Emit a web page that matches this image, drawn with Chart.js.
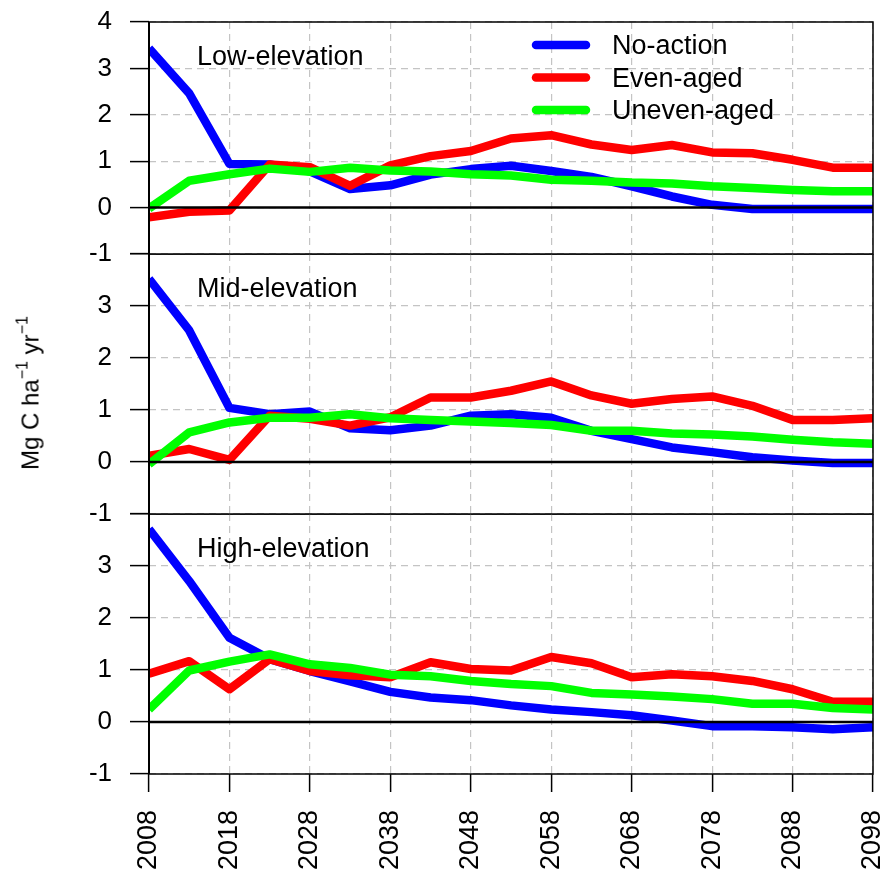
<!DOCTYPE html>
<html>
<head>
<meta charset="utf-8">
<script src="https://cdn.jsdelivr.net/npm/chart.js@4.4.1/dist/chart.umd.min.js"></script>
<style>
  body { margin: 0; background: #fff; }
  #wrap { position: relative; width: 890px; height: 873px; overflow: hidden; }
  canvas { position: absolute; left: 0; }
  #ytitle {
    position: absolute; left: 32px; top: 393px;
    transform: translate(-50%, -50%) rotate(-90deg);
    font: 24px "Liberation Sans", Arial, sans-serif;
    white-space: nowrap; line-height: 30px; color: #000;
  }
  #ytitle .sup { font-size: 16px; position: relative; top: -11px; }
</style>
</head>
<body>
<div id="wrap">
  <canvas id="low" width="890" height="274" style="top:0px"></canvas>
  <canvas id="mid" width="890" height="280" style="top:254px"></canvas>
  <canvas id="high" width="890" height="359" style="top:514px"></canvas>
  <div id="ytitle">Mg C ha<span class="sup">−1</span> yr<span class="sup">−1</span></div>
</div>

<script>
// years (every 5 yrs) and axis ticks
const years = [2008, 2013, 2018, 2023, 2028, 2033, 2038, 2043, 2048, 2053, 2058, 2063, 2068, 2073, 2078, 2083, 2088, 2093, 2098];
const xTicks = [2008, 2018, 2028, 2038, 2048, 2058, 2068, 2078, 2088, 2098];
const yTicks = [-1, 0, 1, 2, 3, 4];

const seriesNames = ['No-action', 'Even-aged', 'Uneven-aged'];
const seriesColors = ['#0000ff', '#ff0000', '#00ff00'];

// Low-elevation
const lowNoAction = [3.43, 2.46, 0.94, 0.93, 0.78, 0.40, 0.48, 0.71, 0.83, 0.90, 0.79, 0.66, 0.46, 0.24, 0.06, -0.03, -0.03, -0.03, -0.03];
const lowEven     = [-0.21, -0.09, -0.06, 0.93, 0.87, 0.47, 0.91, 1.11, 1.22, 1.49, 1.56, 1.36, 1.24, 1.35, 1.19, 1.17, 1.03, 0.86, 0.86];
const lowUneven   = [-0.02, 0.58, 0.72, 0.84, 0.77, 0.86, 0.80, 0.78, 0.72, 0.69, 0.60, 0.58, 0.54, 0.52, 0.46, 0.42, 0.38, 0.35, 0.35];

// Mid-elevation
const midNoAction = [3.52, 2.53, 1.04, 0.92, 0.97, 0.65, 0.61, 0.70, 0.89, 0.92, 0.85, 0.60, 0.44, 0.28, 0.19, 0.09, 0.03, -0.02, -0.02];
const midEven     = [0.12, 0.25, 0.04, 0.89, 0.83, 0.70, 0.86, 1.24, 1.24, 1.37, 1.55, 1.28, 1.12, 1.21, 1.26, 1.08, 0.81, 0.81, 0.84];
const midUneven   = [-0.04, 0.57, 0.76, 0.85, 0.85, 0.92, 0.84, 0.81, 0.78, 0.75, 0.71, 0.60, 0.60, 0.55, 0.53, 0.49, 0.43, 0.38, 0.35];

// High-elevation
const highNoAction = [3.71, 2.71, 1.62, 1.21, 0.98, 0.78, 0.58, 0.47, 0.42, 0.32, 0.24, 0.19, 0.13, 0.03, -0.08, -0.08, -0.10, -0.14, -0.10];
const highEven     = [0.93, 1.17, 0.63, 1.21, 0.98, 0.90, 0.86, 1.15, 1.02, 0.99, 1.25, 1.13, 0.86, 0.92, 0.88, 0.79, 0.63, 0.39, 0.39];
const highUneven   = [0.24, 0.99, 1.16, 1.30, 1.11, 1.04, 0.91, 0.88, 0.79, 0.73, 0.69, 0.56, 0.53, 0.49, 0.44, 0.35, 0.35, 0.27, 0.24];

const FONT = '"Liberation Sans", Arial, sans-serif';
const gridColor = '#c4c4c4';

// frame, zero line, panel title and legend
const panelDecor = {
  id: 'panelDecor',
  afterDatasetsDraw(chart, args, opts) {
    const { ctx, chartArea: a } = chart;
    const y = chart.scales.y;
    ctx.save();
    ctx.strokeStyle = '#000';

    const y0 = y.getPixelForValue(0);
    ctx.lineWidth = 2.5;
    ctx.beginPath(); ctx.moveTo(a.left, y0); ctx.lineTo(a.right, y0); ctx.stroke();

    ctx.lineWidth = 1.5;
    ctx.strokeRect(a.left, a.top, a.right - a.left, a.bottom - a.top);
    ctx.lineWidth = 2;
    ctx.beginPath(); ctx.moveTo(a.left, a.top); ctx.lineTo(a.left, a.bottom); ctx.stroke();

    ctx.fillStyle = '#000';
    ctx.font = '27px ' + FONT;
    ctx.textAlign = 'left';
    ctx.textBaseline = 'middle';
    ctx.fillText(opts.title, a.left + 48, a.top + 36);

    if (opts.legend) {
      chart.data.datasets.forEach((ds, i) => {
        const ly = a.top + 23 + i * 32.5;
        ctx.strokeStyle = ds.borderColor;
        ctx.lineWidth = 8.5;
        ctx.lineCap = 'round';
        ctx.beginPath(); ctx.moveTo(a.left + 387, ly); ctx.lineTo(a.left + 437, ly); ctx.stroke();
        ctx.fillText(ds.label, a.left + 463, ly + 2);
      });
    }
    ctx.restore();
  }
};

const panels = [
  { id: 'low',  title: 'Low-elevation',  series: [lowNoAction, lowEven, lowUneven],    padTop: 22, xHeight: 20, showX: false, topLabel: true,  legend: true },
  { id: 'mid',  title: 'Mid-elevation',  series: [midNoAction, midEven, midUneven],    padTop: 0,  xHeight: 20, showX: false, topLabel: false, legend: false },
  { id: 'high', title: 'High-elevation', series: [highNoAction, highEven, highUneven], padTop: 0,  xHeight: 99, showX: true,  topLabel: false, legend: false }
];

panels.forEach(p => {
  const ctx = document.getElementById(p.id).getContext('2d');

  new Chart(ctx, {
    type: 'line',
    data: {
      datasets: p.series.map((vals, i) => ({
        label: seriesNames[i],
        data: years.map((yr, j) => ({ x: yr, y: vals[j] })),
        borderColor: seriesColors[i],
        borderWidth: 8.5,
        pointRadius: 0,
        tension: 0,
        fill: false,
        clip: 0,
        borderJoinStyle: 'round',
        order: 2 - i
      }))
    },
    options: {
      responsive: false,
      devicePixelRatio: 1,
      animation: false,
      layout: { padding: { top: p.padTop, right: 17, bottom: 0, left: 0 } },
      plugins: {
        legend: { display: false },
        tooltip: { enabled: false },
        panelDecor: { title: p.title, legend: p.legend }
      },
      scales: {
        x: {
          type: 'linear',
          min: 2008,
          max: 2098,
          afterBuildTicks: s => { s.ticks = xTicks.map(v => ({ value: v })); },
          afterFit: s => { s.height = p.xHeight; s.paddingLeft = 0; s.paddingRight = 0; },
          grid: { color: gridColor, lineWidth: 1.2, drawTicks: p.showX, tickColor: '#000', tickLength: 18, tickWidth: 1.5 },
          border: { display: false, dash: [7, 5] },
          ticks: {
            display: p.showX,
            autoSkip: false,
            minRotation: 90,
            maxRotation: 90,
            padding: 18,
            color: '#000',
            font: { family: FONT, size: 27 },
            callback: v => String(v)
          }
        },
        y: {
          min: -1,
          max: 4,
          afterBuildTicks: s => { s.ticks = yTicks.map(v => ({ value: v })); },
          afterFit: s => { s.width = 149; s.paddingTop = 0; s.paddingBottom = 0; },
          grid: { color: gridColor, lineWidth: 1.2, tickColor: '#000', tickLength: 19, tickWidth: 1.5 },
          border: { display: false, dash: [7, 5] },
          ticks: {
            padding: 18,
            color: '#000',
            font: { family: FONT, size: 26 },
            callback: v => (v === 4 && !p.topLabel) ? '' : String(v)
          }
        }
      }
    },
    plugins: [panelDecor]
  });
});
</script>
</body>
</html>
